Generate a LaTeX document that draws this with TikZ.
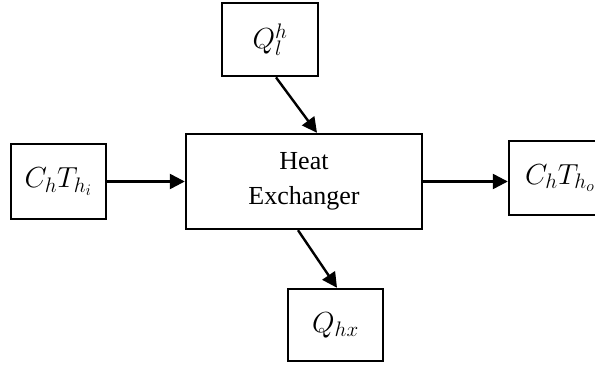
\RequirePackage{fix-cm}
\documentclass[tikz,border=0pt]{standalone}
\usepackage{fontspec}
\setmainfont{Liberation Serif}
\DeclareMathSizes{29}{29}{21}{16}
\newcommand{\qty}[1]{{\fontsize{29}{35}\selectfont$#1$}}
\usetikzlibrary{arrows.meta}
\tikzset{
  font=\fontsize{26}{35}\selectfont,
  block/.style={
    draw=black,
    line width=2.4pt,
    fill=white,
    align=center,
    inner sep=0pt
  },
  arrow/.style={
    -{Triangle[length=15pt,width=15pt]},
    draw=black,
    line width=2.4pt
  }
}

\begin{document}
\begin{tikzpicture}[x=1pt, y=-1pt]
\clip (0,0) rectangle (595,366);
\useasboundingbox (0,0) rectangle (595,366);

% Central block
\node[block, minimum width=236pt, minimum height=95pt] (hx) at (304,181.5)
  {Heat\\Exchanger};

% Surrounding quantities
\node[block, minimum width=96pt, minimum height=73pt] (ql) at (270,39.7)
  {\qty{Q_l^h}};
\node[block, minimum width=95pt, minimum height=75pt] (cin) at (58.3,181.5)
  {\qty{C_hT_{h_i}}};
\node[block, minimum width=102pt, minimum height=74pt] (cout) at (560,178)
  {\qty{C_hT_{h_o}}};
\node[block, minimum width=95pt, minimum height=72pt] (qhx) at (335.5,325)
  {\qty{Q_{hx}}};

\draw[arrow] (cin.east) -- (hx.west);
\draw[arrow] (hx.east) -- (hx.east -| cout.west);
\draw[arrow] ([xshift=6pt]ql.south) -- ([xshift=13pt]hx.north);
\draw[arrow] ([xshift=-6pt]hx.south) -- ([xshift=1.5pt]qhx.north);

\end{tikzpicture}
\end{document}
